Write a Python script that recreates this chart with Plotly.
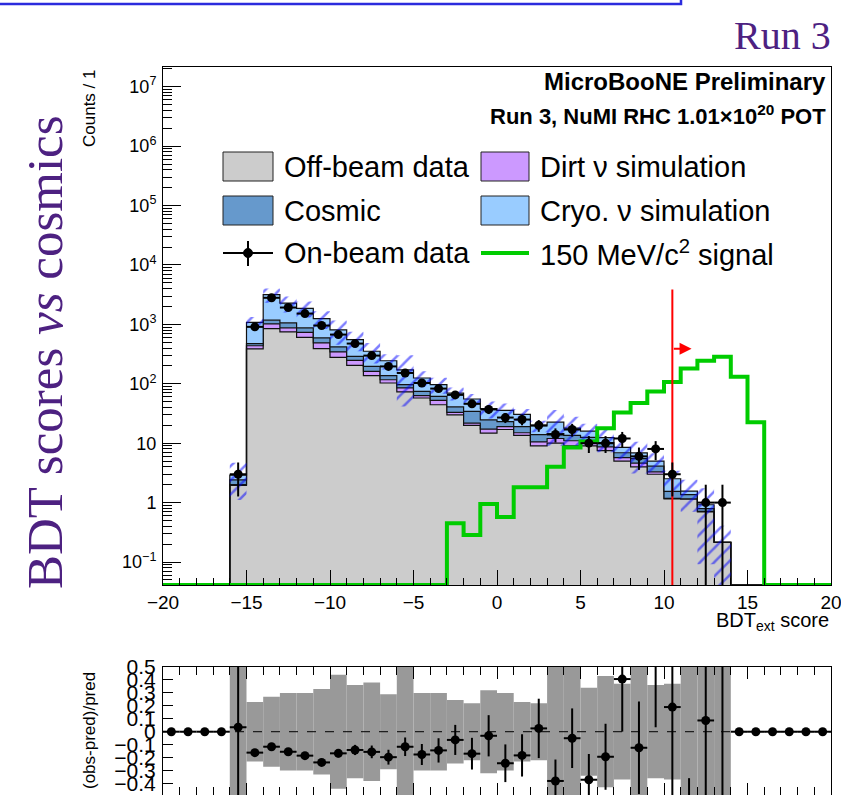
import numpy as np
import plotly.graph_objects as go

W, H = 841, 795

# ---------------- data (40 bins of width 1 from -20 to 20) ----------------
bin_edges = list(range(-20, 21))

off_beam = [0, 0, 0, 0,
            1.95, 386, 849, 747, 606, 391, 279, 204, 137, 103, 72.8, 57.6, 44.4, 30, 19.9, 14.8,
            17, 13.5, 9, 10, 9, 9, 7.5, 5, 4, 3, 1.15, 1.14, 0.70, 0.215,
            0, 0, 0, 0, 0, 0]
dirt = [0, 0, 0, 0,
        0.05, 51, 170, 126, 130, 97, 65, 44, 25, 14, 12.2, 5.4, 8.1, 3, 1.9, 2.5,
        2, 1.5, 1.5, 2, 2, 1.5, 1.2, 0.7, 0.6, 0.3, 0.03, 0.02, 0.01, 0,
        0, 0, 0, 0, 0, 0]
cosmic = [0, 0, 0, 0,
          0.42, 37, 156, 187, 137, 104, 73, 42, 34, 20, 11.6, 11.5, 8.8, 8, 12.4, 7.4,
          4, 4, 3.4, 2.5, 2.5, 2, 1.5, 1.2, 0.9, 0.8, 0.37, 0.2, 0.08, 0,
          0, 0, 0, 0, 0, 0]
cryo = [0, 0, 0, 0,
        0.48, 609, 1992, 1212, 992, 660, 391, 263, 157, 107, 75.4, 50.5, 35.7, 28.4, 21.2, 13.5,
        12.7, 11.6, 5.6, 8.1, 4.4, 3.4, 2.2, 1.63, 1.35, 0.9, 0.97, 0.2, 0.13, 0,
        0, 0, 0, 0, 0, 0]
on_beam = [0, 0, 0, 0,
           3, 908, 2800, 1920, 1520, 955, 673, 475, 298, 196, 152, 103, 83, 65, 46, 37,
           27, 25, 20, 14, 17, 10, 10, 12, 6, 8, 3, 0, 1, 1,
           0, 0, 0, 0, 0, 0]
mc_rel_err = [0, 0, 0, 0,
              0.62, 0.23, 0.27, 0.30, 0.30, 0.33, 0.44, 0.36, 0.38, 0.29, 0.76, 0.30, 0.30, 0.245, 0.22, 0.32,
              0.30, 0.23, 0.22, 0.60, 0.55, 0.34, 0.43, 0.37, 0.55, 0.36, 0.37, 0.55, 0.90, 0.90,
              0, 0, 0, 0, 0, 0]
signal = [0] * 17 + [0.45, 0.285, 0.95, 0.57, 1.82, 1.82, 4.0, 8.5, 10.7, 17.9, 32.9, 47.6,
                     74.3, 107, 180, 245, 285, 131, 22.6] + [0] * 4

cut_value = 10.5
cut_line_top = 3860
cut_arrow_y = 387
cut_arrow_end = 11.65

y_tickvals = [0.1, 1, 10, 100, 1e3, 1e4, 1e5, 1e6, 1e7]
y_ticktext = ["10<sup>\u22121</sup>", "1", "10", "10<sup>2</sup>", "10<sup>3</sup>", "10<sup>4</sup>",
              "10<sup>5</sup>", "10<sup>6</sup>", "10<sup>7</sup>"]
r_tickvals = [-0.4, -0.3, -0.2, -0.1, 0, 0.1, 0.2, 0.3, 0.4, 0.5]
r_ticktext = ["\u22120.4", "\u22120.3", "\u22120.2", "\u22120.1", "0", "0.1", "0.2", "0.3", "0.4", "0.5"]

# ---------------- styling ----------------
X_RANGE = [-20, 20]
LOGY_RANGE = [-1.387, 7.332]
RATIO_RANGE = [-0.489, 0.5]
ymin = 10 ** LOGY_RANGE[0]

C_OFF = "#cccccc"
C_DIRT = "#cc99ff"
C_COSMIC = "#6699cc"
C_CRYO = "#99ccff"
C_SIG = "#00cc00"
C_BAND = "#999999"
PURPLE = "#4d2181"
SANS = "Liberation Sans, Arial, sans-serif"
SERIF = "Liberation Serif, Times New Roman, serif"

edges = np.array(bin_edges, dtype=float)
centers = edges[:-1] + 0.5
off = np.array(off_beam, float)
dr = np.array(dirt, float)
co = np.array(cosmic, float)
cr = np.array(cryo, float)
data = np.array(on_beam, float)
err = np.array(mc_rel_err, float)
sig = np.array(signal, float)

c1 = off
c2 = c1 + dr
c3 = c2 + co
c4 = c3 + cr


def step(v):
    v = np.maximum(np.asarray(v, float), ymin)
    return np.append(v, v[-1])


fig = go.Figure()

# baseline
fig.add_trace(go.Scatter(x=edges, y=step(np.zeros(40)), mode="lines", line=dict(width=0, color="black"),
                         line_shape="hv", showlegend=False, hoverinfo="skip", xaxis="x", yaxis="y"))
for cum, col in [(c1, C_OFF), (c2, C_DIRT), (c3, C_COSMIC), (c4, C_CRYO)]:
    fig.add_trace(go.Scatter(x=edges, y=step(cum), mode="lines", line=dict(width=1.2, color="#111111"),
                             line_shape="hv", fill="tonexty", fillcolor=col, showlegend=False,
                             hoverinfo="skip", xaxis="x", yaxis="y"))

# MC uncertainty hatch
low = np.where(c4 > 0, np.maximum(c4 * (1 - err), ymin), ymin)
up = np.where(c4 > 0, c4 * (1 + err), ymin)
fig.add_trace(go.Scatter(x=edges, y=step(low), mode="lines", line=dict(width=0, color="rgba(0,0,0,0)"),
                         line_shape="hv", showlegend=False, hoverinfo="skip", xaxis="x", yaxis="y"))
fig.add_trace(go.Scatter(x=edges, y=step(up), mode="lines", line=dict(width=0, color="rgba(0,0,0,0)"),
                         line_shape="hv", fill="tonexty", fillcolor="rgba(0,0,0,0)",
                         fillpattern=dict(shape="/", fgcolor="#0000ff", bgcolor="rgba(0,0,0,0)",
                                          size=10, solidity=0.25, fillmode="overlay"),
                         showlegend=False, hoverinfo="skip", xaxis="x", yaxis="y"))

# signal
fig.add_trace(go.Scatter(x=edges, y=step(sig), mode="lines", line=dict(width=4, color=C_SIG),
                         line_shape="hv", showlegend=False, hoverinfo="skip", xaxis="x", yaxis="y"))

# cut line
fig.add_trace(go.Scatter(x=[cut_value, cut_value], y=[ymin, cut_line_top], mode="lines",
                         line=dict(width=2, color="#ff0000"), showlegend=False, hoverinfo="skip",
                         xaxis="x", yaxis="y"))

# on-beam data
m = data > 0
dy = np.sqrt(data[m])
dym = np.minimum(dy, data[m] - ymin / 2)
fig.add_trace(go.Scatter(x=centers[m], y=data[m], mode="markers",
                         marker=dict(symbol="circle", size=9, color="black"),
                         error_x=dict(type="data", array=[0.5] * int(m.sum()), width=0, thickness=2, color="black"),
                         error_y=dict(type="data", array=dy, arrayminus=dym, width=0, thickness=2, color="black"),
                         showlegend=False, hoverinfo="skip", xaxis="x", yaxis="y"))

# ---------------- ratio panel ----------------
pred = c4
has = pred > 0
ratio = np.where(has, data / np.where(has, pred, 1) - 1, 0.0)
rerr = np.where(has, np.sqrt(np.maximum(data, 1)) / np.where(has, pred, 1), 0.0)

fig.add_trace(go.Bar(x=centers, y=2 * err, base=-err, width=1, marker=dict(color=C_BAND, line=dict(width=0)),
                     showlegend=False, hoverinfo="skip", xaxis="x2", yaxis="y2"))
fig.add_trace(go.Scatter(x=X_RANGE, y=[0, 0], mode="lines", line=dict(width=1, color="black", dash="dash"),
                         showlegend=False, hoverinfo="skip", xaxis="x2", yaxis="y2"))
fig.add_trace(go.Scatter(x=centers, y=ratio, mode="markers",
                         marker=dict(symbol="circle", size=9, color="black"),
                         error_x=dict(type="data", array=[0.5] * 40, width=0, thickness=2, color="black"),
                         error_y=dict(type="data", array=rerr, width=0, thickness=2, color="black"),
                         showlegend=False, hoverinfo="skip", xaxis="x2", yaxis="y2"))


def px(x):
    return x / W


def py(y):
    return 1 - y / H


xdom = [px(163), px(831)]
minor_log = [k * 10.0 ** p for p in range(-2, 8) for k in range(2, 10)
             if LOGY_RANGE[0] <= np.log10(k * 10.0 ** p) <= LOGY_RANGE[1]]

fig.update_layout(
    width=W, height=H, autosize=False,
    margin=dict(l=0, r=0, t=0, b=0, pad=0, autoexpand=False),
    paper_bgcolor="white", plot_bgcolor="white",
    barmode="overlay", showlegend=False,
    font=dict(family=SANS, color="black"),
    xaxis=dict(domain=xdom, range=X_RANGE, anchor="y", showgrid=False, zeroline=False, automargin=False,
               showline=True, linecolor="black", linewidth=1, mirror=True, ticklabeloverflow="allow",
               ticks="inside", tickmode="linear", tick0=0, dtick=5, ticklen=15, tickwidth=1, tickcolor="black",
               minor=dict(ticks="inside", dtick=1, tick0=0, ticklen=7, tickwidth=1, tickcolor="black", showgrid=False),
               tickfont=dict(size=19, family=SANS)),
    yaxis=dict(domain=[py(585), py(67)], type="log", range=LOGY_RANGE, anchor="x", showgrid=False,
               zeroline=False, showline=True, linecolor="black", linewidth=1, mirror=True, automargin=False,
               ticks="inside", tickmode="array", tickvals=y_tickvals, ticktext=y_ticktext,
               ticklen=18, tickwidth=1, tickcolor="black",
               minor=dict(ticks="inside", tickmode="array", tickvals=minor_log, ticklen=9, tickwidth=1,
                          tickcolor="black", showgrid=False),
               tickfont=dict(size=18, family=SANS), ticklabelstandoff=2),
    xaxis2=dict(domain=xdom, range=X_RANGE, anchor="y2", showgrid=False, zeroline=False, automargin=False,
                showline=True, linecolor="black", linewidth=1, mirror="ticks",
                ticks="inside", tickmode="linear", tick0=0, dtick=5, ticklen=12, tickwidth=1, tickcolor="black",
                minor=dict(ticks="inside", dtick=1, tick0=0, ticklen=8, tickwidth=1, tickcolor="black", showgrid=False),
                showticklabels=False),
    yaxis2=dict(domain=[0, py(667)], range=RATIO_RANGE, anchor="x2", showgrid=False, zeroline=False,
                showline=True, linecolor="black", linewidth=1, mirror=True, automargin=False,
                ticks="inside", tickmode="array", tickvals=r_tickvals, ticktext=r_ticktext,
                ticklen=10, tickwidth=1, tickcolor="black",
                tickfont=dict(size=21, family=SANS), ticklabelstandoff=2),
)

ann = []
shapes = []

# cut arrow
ann.append(dict(x=cut_arrow_end, y=np.log10(cut_arrow_y), ax=cut_value, ay=np.log10(cut_arrow_y),
                xref="x", yref="y", axref="x", ayref="y", text="", showarrow=True,
                arrowhead=2, arrowsize=1.2, arrowwidth=2, arrowcolor="#ff0000"))

# titles / labels
ann.append(dict(x=px(833), y=py(36), xref="paper", yref="paper", xanchor="right", yanchor="middle",
                text="Run 3", showarrow=False, font=dict(family=SERIF, size=40, color=PURPLE)))
ann.append(dict(x=px(45), y=py(352), xref="paper", yref="paper", xanchor="center", yanchor="middle",
                text="BDT scores <i>vs</i> cosmics", textangle=-90, showarrow=False,
                font=dict(family=SERIF, size=51, color=PURPLE)))
ann.append(dict(x=px(90), y=py(67), xref="paper", yref="paper", xanchor="center", yanchor="top",
                text="Counts / 1", textangle=-90, showarrow=False, font=dict(family=SANS, size=17)))
ann.append(dict(x=px(828), y=py(82), xref="paper", yref="paper", xanchor="right", yanchor="middle",
                text="<b>MicroBooNE Preliminary</b>", showarrow=False, font=dict(family=SANS, size=24)))
ann.append(dict(x=px(828), y=py(115), xref="paper", yref="paper", xanchor="right", yanchor="middle",
                text="<b>Run 3, NuMI RHC 1.01\u00d710<sup>20</sup> POT</b>", showarrow=False,
                font=dict(family=SANS, size=22)))
ann.append(dict(x=px(831), y=py(621), xref="paper", yref="paper", xanchor="right", yanchor="middle",
                text="BDT<sub>ext</sub> score", showarrow=False, font=dict(family=SANS, size=20)))
ann.append(dict(x=px(89), y=py(731), xref="paper", yref="paper", xanchor="center", yanchor="middle",
                text="(obs-pred)/pred", textangle=-90, showarrow=False, font=dict(family=SANS, size=17)))

# legend
leg_font = dict(family=SANS, size=29, color="black")
rows = [166.5, 210.5, 253]
boxes = [(223, 273, rows[0], C_OFF, "Off-beam data"), (481, 529, rows[0], C_DIRT, "Dirt \u03bd simulation"),
         (223, 273, rows[1], C_COSMIC, "Cosmic"), (481, 529, rows[1], C_CRYO, "Cryo. \u03bd simulation")]
for x0, x1, yc, col, label in boxes:
    shapes.append(dict(type="rect", xref="paper", yref="paper", x0=px(x0), x1=px(x1),
                       y0=py(yc + 14.5), y1=py(yc - 14.5), fillcolor=col, line=dict(color="#222222", width=1)))
    ann.append(dict(x=px(x1 + 9), y=py(yc), xref="paper", yref="paper", xanchor="left", yanchor="middle",
                    text=label, showarrow=False, font=leg_font))
shapes.append(dict(type="line", xref="paper", yref="paper", x0=px(223), x1=px(273), y0=py(rows[2]), y1=py(rows[2]),
                   line=dict(color="black", width=2)))
shapes.append(dict(type="line", xref="paper", yref="paper", x0=px(248), x1=px(248), y0=py(rows[2] - 12),
                   y1=py(rows[2] + 13), line=dict(color="black", width=2)))
shapes.append(dict(type="circle", xref="paper", yref="paper", x0=px(243.5), x1=px(252.5), y0=py(rows[2] - 4.5),
                   y1=py(rows[2] + 4.5), fillcolor="black", line=dict(color="black", width=1)))
ann.append(dict(x=px(282), y=py(rows[2]), xref="paper", yref="paper", xanchor="left", yanchor="middle",
                text="On-beam data", showarrow=False, font=leg_font))
shapes.append(dict(type="line", xref="paper", yref="paper", x0=px(481), x1=px(529), y0=py(rows[2]), y1=py(rows[2]),
                   line=dict(color=C_SIG, width=4)))
ann.append(dict(x=px(538), y=py(rows[2]), xref="paper", yref="paper", xanchor="left", yanchor="middle",
                text="150 MeV/c<sup>2</sup> signal", showarrow=False, font=leg_font))

# blue frame at very top (slide decoration)
shapes.append(dict(type="rect", xref="paper", yref="paper", x0=px(-5), x1=px(681), y0=py(4), y1=py(-20),
                   line=dict(color="#2b2bdd", width=2.5), fillcolor="rgba(0,0,0,0)"))

fig.update_layout(annotations=ann, shapes=shapes)
fig.write_html("out.html")
